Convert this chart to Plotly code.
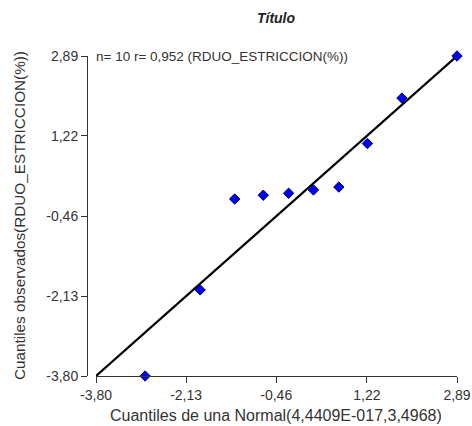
import plotly.graph_objects as go

# Data
x_quantiles = [-2.89, -1.87, -1.23, -0.70, -0.23, 0.23, 0.70, 1.23, 1.87, 2.89]
y_observed = [-3.80, -2.00, -0.10, -0.02, 0.02, 0.09, 0.15, 1.06, 2.01, 2.89]
tick_values = [-3.80, -2.13, -0.46, 1.22, 2.89]
tick_labels = ["-3,80", "-2,13", "-0,46", "1,22", "2,89"]
axis_min = -3.80
axis_max = 2.89

W, H = 472, 426
L, R, T, B = 87, 15, 56, 50
PW, PH = W - L - R, H - T - B

fig = go.Figure()

# identity reference line
fig.add_trace(go.Scatter(
    x=[axis_min, axis_max], y=[axis_min, axis_max],
    mode="lines", line=dict(color="black", width=2.2),
    hoverinfo="skip", showlegend=False, cliponaxis=False,
))

fig.add_trace(go.Scatter(
    x=x_quantiles, y=y_observed, mode="markers",
    marker=dict(symbol="diamond", size=8, color="#0000ff",
                line=dict(color="#00005a", width=1)),
    showlegend=False, cliponaxis=False,
))

font_family = "Liberation Sans, Arial, sans-serif"
txt = "#333333"

fig.update_layout(
    width=W, height=H,
    margin=dict(l=L, r=R, t=T, b=B, autoexpand=False),
    plot_bgcolor="white", paper_bgcolor="white",
    font=dict(family=font_family, size=14, color=txt),
    title=dict(text="<b><i>Título</i></b>", xref="container", x=276 / W, xanchor="center",
               yref="container", y=1 - 18 / H, yanchor="middle",
               font=dict(size=14, color="#222222", family=font_family)),
    xaxis=dict(
        domain=[9 / PW, 1], automargin=False,
        range=[axis_min, axis_max], tickvals=tick_values, ticktext=tick_labels,
        showgrid=False, zeroline=False, showline=True, linecolor=txt, linewidth=1,
        ticks="outside", ticklen=6, tickcolor=txt,
        tickfont=dict(size=14, color=txt),
    ),
    yaxis=dict(
        anchor="free", position=0, automargin=False,
        range=[axis_min, axis_max], tickvals=tick_values, ticktext=tick_labels,
        showgrid=False, zeroline=False, showline=True, linecolor=txt, linewidth=1,
        ticks="outside", ticklen=6, tickcolor=txt,
        tickfont=dict(size=14, color=txt),
    ),
    annotations=[
        dict(text="n= 10 r= 0,952 (RDUO_ESTRICCION(%))",
             xref="paper", yref="paper", x=(94 - L) / PW, y=1, xanchor="left", yanchor="middle",
             showarrow=False, font=dict(size=13.5, color=txt)),
        dict(text="Cuantiles de una Normal(4,4409E-017,3,4968)",
             xref="paper", yref="paper", x=(276 - L) / PW, y=-(415 - (T + PH)) / PH,
             xanchor="center", yanchor="middle", showarrow=False,
             font=dict(size=16, color=txt)),
        dict(text="Cuantiles observados(RDUO_ESTRICCION(%))",
             xref="paper", yref="paper", x=-(L - 19) / PW, y=0.5, textangle=-90,
             xanchor="center", yanchor="middle", showarrow=False,
             font=dict(size=15.3, color=txt)),
    ],
)

fig.write_html("out.html", config={"displayModeBar": False},
               post_script="document.body.style.margin='0';document.body.style.overflow='hidden';")
